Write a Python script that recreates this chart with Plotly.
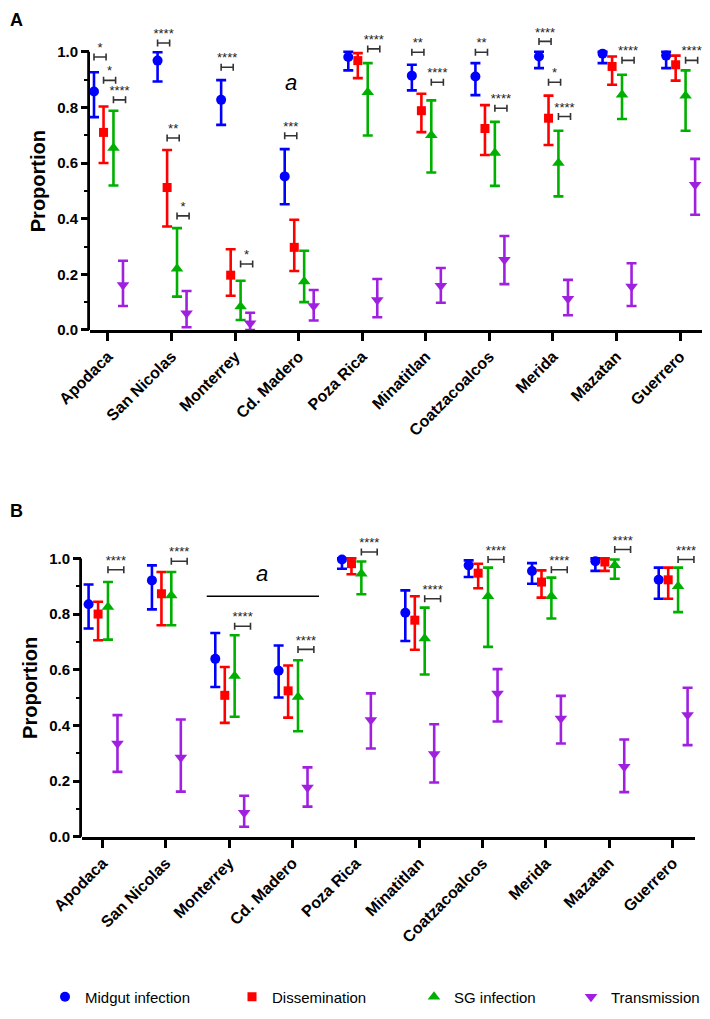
import plotly.graph_objects as go

cities = ["Apodaca", "San Nicolas", "Monterrey", "Cd. Madero", "Poza Rica",
          "Minatitlan", "Coatzacoalcos", "Merida", "Mazatan", "Guerrero"]
series_names = ["Midgut infection", "Dissemination", "SG infection", "Transmission"]

# ---- Panel A ----
A_midgut = [0.857, 0.968, 0.827, 0.552, 0.981, 0.914, 0.911, 0.983, 0.993, 0.986]
A_midgut_lo = [0.765, 0.893, 0.737, 0.452, 0.933, 0.861, 0.844, 0.941, 0.959, 0.941]
A_midgut_hi = [0.926, 0.998, 0.898, 0.650, 1.0, 0.953, 0.959, 1.0, 1.0, 1.0]

A_dissem = [0.710, 0.512, 0.197, 0.297, 0.968, 0.788, 0.724, 0.761, 0.947, 0.953]
A_dissem_lo = [0.600, 0.372, 0.123, 0.212, 0.905, 0.711, 0.629, 0.665, 0.881, 0.896]
A_dissem_hi = [0.803, 0.647, 0.290, 0.396, 0.995, 0.849, 0.808, 0.842, 0.983, 0.986]

A_sg = [0.654, 0.220, 0.084, 0.174, 0.854, 0.700, 0.636, 0.600, 0.845, 0.842]
A_sg_lo = [0.519, 0.120, 0.036, 0.100, 0.699, 0.566, 0.518, 0.480, 0.758, 0.716]
A_sg_hi = [0.788, 0.366, 0.177, 0.285, 0.959, 0.825, 0.748, 0.716, 0.917, 0.933]

A_trans = [0.162, 0.060, 0.024, 0.086, 0.108, 0.159, 0.252, 0.112, 0.156, 0.522]
A_trans_lo = [0.086, 0.010, 0.000, 0.034, 0.046, 0.098, 0.165, 0.053, 0.086, 0.414]
A_trans_hi = [0.249, 0.140, 0.062, 0.144, 0.183, 0.223, 0.338, 0.180, 0.240, 0.615]

# significance brackets panel A: category index, first series of the compared pair, height, label
A_sig_cat = [0, 0, 0, 1, 1, 1, 2, 2, 3, 4, 5, 5, 6, 6, 7, 7, 7, 8, 9]
A_sig_pair = [0, 1, 2, 0, 1, 2, 0, 2, 0, 2, 0, 2, 0, 2, 0, 1, 2, 2, 2]
A_sig_y = [0.981, 0.897, 0.827, 1.031, 0.690, 0.410, 0.944, 0.237, 0.698, 1.010,
           0.998, 0.890, 0.998, 0.797, 1.037, 0.890, 0.767, 0.969, 0.969]
A_sig_lbl = ["*", "*", "****", "****", "**", "*", "****", "*", "***", "****",
             "**", "****", "**", "****", "****", "*", "****", "****", "****"]

# ---- Panel B ----
B_midgut = [0.835, 0.921, 0.639, 0.596, 0.996, 0.805, 0.975, 0.955, 0.990, 0.923]
B_midgut_lo = [0.748, 0.817, 0.538, 0.500, 0.963, 0.703, 0.933, 0.909, 0.955, 0.855]
B_midgut_hi = [0.906, 0.975, 0.732, 0.687, 1.0, 0.885, 0.993, 0.983, 1.0, 0.967]

B_dissem = [0.800, 0.873, 0.508, 0.524, 0.981, 0.778, 0.947, 0.915, 0.987, 0.923]
B_dissem_lo = [0.706, 0.760, 0.409, 0.428, 0.943, 0.672, 0.893, 0.859, 0.955, 0.855]
B_dissem_hi = [0.844, 0.951, 0.610, 0.615, 1.0, 0.864, 0.981, 0.957, 1.0, 0.967]

B_sg = [0.825, 0.867, 0.577, 0.502, 0.945, 0.712, 0.864, 0.864, 0.975, 0.900]
B_sg_lo = [0.708, 0.760, 0.431, 0.379, 0.871, 0.583, 0.682, 0.784, 0.927, 0.807]
B_sg_hi = [0.915, 0.951, 0.724, 0.634, 0.989, 0.823, 0.967, 0.931, 0.996, 0.967]

B_trans = [0.335, 0.285, 0.086, 0.177, 0.419, 0.297, 0.515, 0.425, 0.251, 0.437]
B_trans_lo = [0.233, 0.162, 0.036, 0.108, 0.317, 0.195, 0.414, 0.335, 0.160, 0.329]
B_trans_hi = [0.437, 0.421, 0.147, 0.249, 0.515, 0.404, 0.602, 0.506, 0.349, 0.535]

B_sig_cat = [0, 1, 2, 3, 4, 5, 6, 7, 8, 9]
B_sig_pair = [2, 2, 2, 2, 2, 2, 2, 2, 2, 2]
B_sig_y = [0.959, 0.990, 0.756, 0.673, 1.023, 0.855, 0.996, 0.959, 1.032, 0.996]
B_sig_lbl = ["****"] * 10

# ---- styles ----
colors = ["#0000FF", "#FF0000", "#00B000", "#A020E0"]
symbols = ["circle", "square", "triangle-up", "triangle-down"]
msizes = [10, 9, 11, 11]
offsets = [-0.22, -0.07, 0.086, 0.236]
legend_widths = [142, 137, 112, 90]
FONT = "Liberation Sans, Arial, sans-serif"
YTOP = 1.07  # headroom above 1.0 for significance marks

# page has an 8px body margin: figure is 702x1011 and page coords are converted
W, H, PAD = 702, 1011, 8


def X(px):
    return (px - PAD) / W


def Y(py):
    return 1 - (py - PAD) / H


fig = go.Figure()

panels = [
    ("x", "y", [(A_midgut, A_midgut_lo, A_midgut_hi), (A_dissem, A_dissem_lo, A_dissem_hi),
                (A_sg, A_sg_lo, A_sg_hi), (A_trans, A_trans_lo, A_trans_hi)],
     A_sig_cat, A_sig_pair, A_sig_y, A_sig_lbl, 0.19, True),
    ("x2", "y2", [(B_midgut, B_midgut_lo, B_midgut_hi), (B_dissem, B_dissem_lo, B_dissem_hi),
                  (B_sg, B_sg_lo, B_sg_hi), (B_trans, B_trans_lo, B_trans_hi)],
     B_sig_cat, B_sig_pair, B_sig_y, B_sig_lbl, 0.25, False),
]

for xa, ya, series, scat, spair, sy, slbl, bw, show in panels:
    for k, (vals, lo, hi) in enumerate(series):
        xs = [i + offsets[k] for i in range(len(cities))]
        fig.add_trace(go.Scatter(
            x=xs, y=vals, xaxis=xa, yaxis=ya, mode="markers",
            name=series_names[k], showlegend=show, legendwidth=legend_widths[k],
            marker=dict(symbol=symbols[k], size=msizes[k], color=colors[k]),
            error_y=dict(type="data", symmetric=False,
                         array=[h - v for h, v in zip(hi, vals)],
                         arrayminus=[v - l for v, l in zip(vals, lo)],
                         color=colors[k], thickness=2.6, width=5),
            cliponaxis=False, hoverinfo="skip"))
    # significance brackets
    bx = [c + offsets[p] + bw / 2 for c, p in zip(scat, spair)]
    fig.add_trace(go.Scatter(
        x=bx, y=sy, xaxis=xa, yaxis=ya, mode="markers+text",
        text=slbl, textposition="top center",
        textfont=dict(family=FONT, size=13, color="#222222"),
        marker=dict(size=1, color="rgba(0,0,0,0)"),
        error_x=dict(type="constant", value=bw / 2, color="#333333", thickness=1.6, width=3.5),
        showlegend=False, cliponaxis=False, hoverinfo="skip"))

axis_common = dict(showline=True, linecolor="black", linewidth=2.8, ticks="outside",
                   ticklen=8, tickwidth=2.6, tickcolor="black", showgrid=False, zeroline=False,
                   mirror=False, automargin=False)

xaxis_common = dict(axis_common, tickmode="array", tickvals=list(range(len(cities))),
                    ticktext=cities, tickangle=-45,
                    tickfont=dict(family=FONT, size=16, color="black", weight="bold"))

yaxis_common = dict(axis_common, range=[0, YTOP], tickvals=[0, 0.2, 0.4, 0.6, 0.8, 1.0],
                    tickformat=".1f", showline=False,
                    tickfont=dict(family=FONT, size=15, color="black", weight="bold"),
                    title=dict(text="Proportion", standoff=6,
                               font=dict(family=FONT, size=20, color="black", weight="bold")),
                    minor=dict(tickvals=[0.1, 0.3, 0.5, 0.7, 0.9], ticks="outside", ticklen=5,
                               tickwidth=2.4, tickcolor="black"))

# page-pixel geometry of the two panels
A_left, A_right, A_zero = 90, 703, 330
B_left, B_right, B_zero = 82, 695, 836.7
PX_PER_UNIT = 278.3

fig.update_layout(
    width=W, height=H,
    margin=dict(l=0, r=0, t=0, b=0, autoexpand=False),
    paper_bgcolor="white", plot_bgcolor="white",
    font=dict(family=FONT, color="black"),
    xaxis=dict(xaxis_common, domain=[X(A_left), X(A_right)], range=[-0.283, 9.36], anchor="y"),
    yaxis=dict(yaxis_common, domain=[Y(A_zero), Y(A_zero - YTOP * PX_PER_UNIT)], anchor="x"),
    xaxis2=dict(xaxis_common, domain=[X(B_left), X(B_right)], range=[-0.324, 9.353], anchor="y2"),
    yaxis2=dict(yaxis_common, domain=[Y(B_zero), Y(B_zero - YTOP * PX_PER_UNIT)], anchor="x2"),
    legend=dict(orientation="h", x=X(45), xanchor="left", y=Y(997), yanchor="middle",
                font=dict(family=FONT, size=15, color="black"), bgcolor="rgba(0,0,0,0)",
                itemclick=False),
    showlegend=True,
)

# y-axis lines drawn from 0 to 1.0 only (GraphPad style)
for left, yref in ((A_left, "y"), (B_left, "y2")):
    fig.add_shape(type="line", xref="paper", yref=yref,
                  x0=X(left - 1.4), x1=X(left - 1.4), y0=-0.005, y1=1.0,
                  line=dict(color="black", width=2.8), layer="above")

# panel letters and "a" markers
fig.add_annotation(text="<b>A</b>", x=0, y=1, xref="paper", yref="paper",
                   xanchor="left", yanchor="top", showarrow=False,
                   font=dict(family=FONT, size=18, color="black"))
fig.add_annotation(text="<b>B</b>", x=0, y=Y(511), xref="paper", yref="paper",
                   xanchor="left", yanchor="middle", showarrow=False,
                   font=dict(family=FONT, size=18, color="black"))
fig.add_annotation(text="<i>a</i>", x=2.88, y=0.89, xref="x", yref="y", showarrow=False,
                   font=dict(family=FONT, size=22, color="black"))
fig.add_annotation(text="<i>a</i>", x=2.513, y=0.945, xref="x2", yref="y2", showarrow=False,
                   font=dict(family=FONT, size=22, color="black"))
fig.add_shape(type="line", x0=1.645, x1=3.418, y0=0.864, y1=0.864, xref="x2", yref="y2",
              line=dict(color="black", width=1.6))

fig.write_html("out.html")
